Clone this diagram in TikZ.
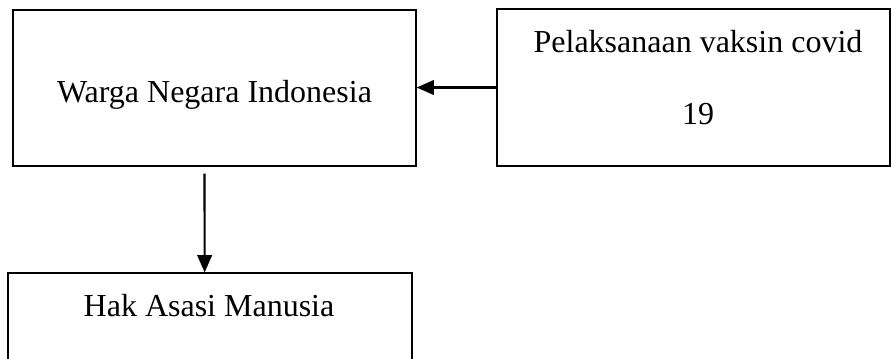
\documentclass[tikz,border=0pt]{standalone}
\usepackage{fontspec}
\setmainfont{Liberation Serif}
\usetikzlibrary{arrows.meta}

\begin{document}
\begin{tikzpicture}[
    x=0.375pt, y=-0.375pt,
    box/.style={rectangle, draw=black, line width=0.5pt, inner sep=0pt},
    txt/.style={font=\fontsize{12}{27}\selectfont, align=center, inner sep=0pt},
    arr/.style={-{Triangle[length=6.5pt,width=5.5pt]}, line width=0.8pt}
]
    \clip (0,0) rectangle (892,358);

    % Boxes
    \node[box, minimum width=151.1pt, minimum height=58.5pt] (wni) at (214.5, 88) {};
    \node[box, minimum width=147.4pt, minimum height=58.9pt] (vaksin) at (693.5, 87.5) {};
    \node[box, minimum width=151.5pt, minimum height=40.1pt] (ham) at (210, 326.5) {};

    % Texts
    \node[txt] (wnitxt) at (214.5, 94.5) {Warga Negara Indonesia};
    \node[txt] (vaksintxt) at (698, 78) {Pelaksanaan vaksin covid\\19};
    \node[txt] (hamtxt) at (209, 306) {Hak Asasi Manusia};

    % Arrows
    \draw[arr] (vaksin.west) -- (vaksin.west -| wni.east);
    \draw[arr] ([shift={(-10,7)}]wni.south) -- ([xshift=-2]ham.north);
\end{tikzpicture}
\end{document}
